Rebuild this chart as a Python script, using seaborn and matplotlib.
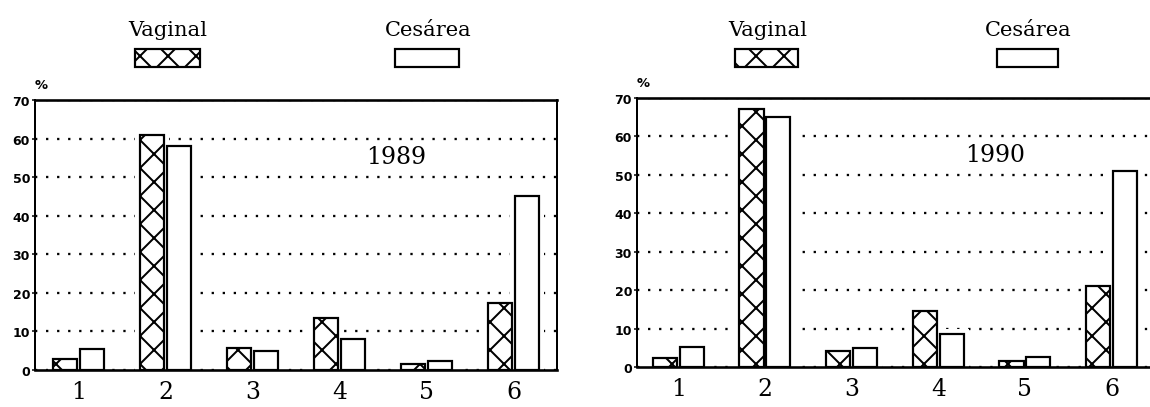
"""Vaginal vs cesarean deliveries by category, 1989 and 1990."""
import matplotlib.pyplot as plt
import pandas as pd
import seaborn as sns
from matplotlib.patches import Rectangle

CATEGORIES = ["1", "2", "3", "4", "5", "6"]
GROUPS = ["Vaginal", "Cesárea"]
VAGINAL_1989 = [2.8, 61.0, 5.7, 13.6, 1.5, 17.5]
CESAREA_1989 = [5.4, 58.0, 4.8, 8.0, 2.4, 45.2]
VAGINAL_1990 = [2.3, 67.1, 4.2, 14.7, 1.6, 21.2]
CESAREA_1990 = [5.3, 65.1, 4.9, 8.6, 2.5, 51.1]
YEARS = ["1989", "1990"]
Y_TICKS = [0, 10, 20, 30, 40, 50, 60, 70]

# dpi chosen so the "x" hatch repeats about every 21 px, like the scan
DPI = 84
W, H = 1150, 408


def px(v):
    """pixels -> points at the output dpi"""
    return v * 72 / DPI


def long_table(vaginal, cesarea):
    rows = []
    for cat, v, c in zip(CATEGORIES, vaginal, cesarea):
        rows.append({"cat": cat, "group": GROUPS[0], "pct": v})
        rows.append({"cat": cat, "group": GROUPS[1], "pct": c})
    return pd.DataFrame(rows)


def draw_panel(ax, df, year, x_left=-0.5):
    palette = {g: "white" for g in GROUPS}
    # white halo so the dotted grid breaks around each bar
    sns.barplot(data=df, x="cat", y="pct", hue="group", hue_order=GROUPS, order=CATEGORIES,
                palette=palette, saturation=1, width=0.62, gap=0.1, legend=False, ax=ax)
    for p in ax.patches:
        p.set_edgecolor("white")
        p.set_linewidth(px(10))
        p.set_zorder(0.9)
    n_halo = len(ax.containers)
    sns.barplot(data=df, x="cat", y="pct", hue="group", hue_order=GROUPS, order=CATEGORIES,
                palette=palette, saturation=1, width=0.62, gap=0.1, legend=False,
                edgecolor="black", linewidth=px(2.2), ax=ax)
    for p in ax.containers[n_halo]:
        p.set_hatch("x")
        p.set_zorder(1)
    for p in ax.containers[n_halo + 1]:
        p.set_zorder(1)

    ax.set_xlim(x_left, 5.5)
    ax.set_ylim(0, 70)
    ax.set_yticks(Y_TICKS)
    ax.set_xlabel("")
    ax.set_ylabel("")
    ax.set_axisbelow(True)
    ax.yaxis.grid(True, linestyle=(0, (1, 3.8)), linewidth=px(2.3), color="black")
    ax.xaxis.grid(False)
    for side in ["left", "right", "top", "bottom"]:
        ax.spines[side].set_visible(True)
        ax.spines[side].set_color("black")
        ax.spines[side].set_linewidth(px(2))
    ax.spines["bottom"].set_linewidth(px(2.6))
    ax.spines["top"].set_linewidth(px(2.6))
    ax.tick_params(axis="x", length=0, pad=px(10), labelsize=px(23.5), colors="black")
    ax.tick_params(axis="y", length=px(3), width=px(1.5), pad=px(2), direction="out",
                   left=True, colors="black")
    for lab in ax.get_yticklabels():
        lab.set_family("DejaVu Sans")
        lab.set_fontweight("bold")
        lab.set_fontsize(px(12.5))
    ax.text(0.012, 1.035, "%", transform=ax.transAxes, ha="center", va="bottom",
            fontsize=px(13), fontweight="bold", family="DejaVu Sans", color="black")
    ax.text(3.65, 55.3, year, ha="center", va="center", fontsize=px(23.5), color="black")


def legend_block(fig, x_vag, x_ces, box_vag, box_ces):
    y_text = 1 - 30 / H
    fig.text(x_vag / W, y_text, GROUPS[0], ha="center", va="center", fontsize=px(21), color="black")
    fig.text(x_ces / W, y_text, GROUPS[1], ha="center", va="center", fontsize=px(21), color="black")
    for (x0, x1), hatch in [(box_vag, "x"), (box_ces, "")]:
        fig.patches.append(Rectangle((x0 / W, 1 - 68 / H), (x1 - x0) / W, 18 / H,
                                     transform=fig.transFigure, facecolor="white",
                                     edgecolor="black", linewidth=px(2.2), hatch=hatch))


def main():
    sns.set_theme(style="white")
    plt.rcParams["font.family"] = ["DejaVu Serif"]
    plt.rcParams["hatch.linewidth"] = px(2.0)
    plt.rcParams["hatch.color"] = "black"

    fig = plt.figure(figsize=(W / DPI, H / DPI), dpi=DPI)
    ax1 = fig.add_axes([35 / W, (H - 371) / H, 522 / W, 270 / H])
    # right panel runs off the page edge in the scan
    ax2 = fig.add_axes([637 / W, (H - 368) / H, 518 / W, 269 / H])

    draw_panel(ax1, long_table(VAGINAL_1989, CESAREA_1989), YEARS[0])
    draw_panel(ax2, long_table(VAGINAL_1990, CESAREA_1990), YEARS[1], x_left=-0.475)

    legend_block(fig, 168, 428, (135, 200), (395, 459))
    legend_block(fig, 768, 1028, (735, 798), (997, 1058))

    fig.savefig("out.png", dpi=DPI, facecolor="white")
    plt.close(fig)


if __name__ == "__main__":
    main()
